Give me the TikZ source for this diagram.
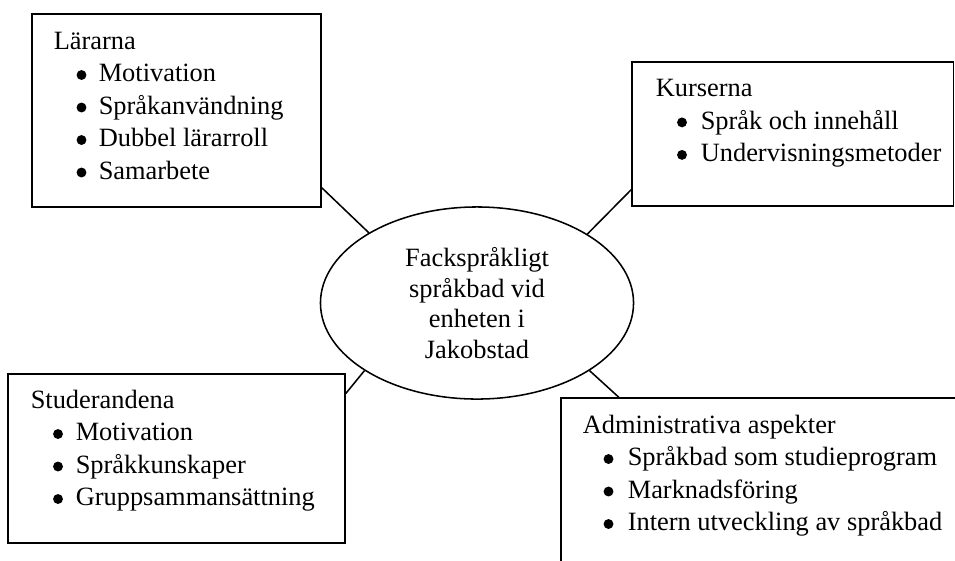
\documentclass[tikz,border=0pt]{standalone}
\usepackage{fontspec}
\setmainfont{Liberation Serif}
\usetikzlibrary{shapes.geometric,fit}
\tikzset{
	box/.style={draw, inner sep=0pt},
	head/.style={anchor=base west, inner sep=0pt},
	bul/.style={circle, fill, inner sep=0pt, minimum size=4.5pt},
}
\begin{document}
\begin{tikzpicture}[x=0.4545pt, y=-0.4545pt, line width=0.7pt, font=\fontsize{12}{14}\selectfont]
	\useasboundingbox (0,0) rectangle (955,560);
	% centre
	\node[draw, ellipse, inner sep=0pt, minimum width=142.3pt, minimum height=87.3pt, align=center, font=\fontsize{12}{13.9}\selectfont] (mid) at (477,303) {Fackspråkligt\\språkbad vid\\enheten i\\Jakobstad};
	% boxes
	\node[box, fit={(32,14) (321,207)}] (lar) {};
	\node[box, fit={(632,62) (953.5,206)}] (kur) {};
	\node[box, fit={(8,374) (345,543)}] (stu) {};
	\node[box, fit={(561,398) (990,600)}] (adm) {};
	% Lärarna
	\node[head] (lar-t) at (53,49.3) {Lärarna};
	\foreach \t [count=\i] in {Motivation, Språkanvändning, Dubbel lärarroll, Samarbete} {
		\node[bul] (lar-b\i) at (81.5,49.3+32.5*\i-6.8) {};
		\node[head] (lar-\i) at (98,49.3+32.5*\i) {\t};
	}
	% Kurserna
	\node[head] (kur-t) at (655,96.7) {Kurserna};
	\foreach \t [count=\i] in {Språk och innehåll, Undervisningsmetoder} {
		\node[bul] (kur-b\i) at (682,96.7+32.5*\i-6.8) {};
		\node[head] (kur-\i) at (700,96.7+32.5*\i) {\t};
	}
	% Studerandena
	\node[head] (stu-t) at (30,408.3) {Studerandena};
	\foreach \t [count=\i] in {Motivation, Språkkunskaper, Gruppsammansättning} {
		\node[bul] (stu-b\i) at (58,408.3+32.5*\i-6.8) {};
		\node[head] (stu-\i) at (75,408.3+32.5*\i) {\t};
	}
	% Administrativa aspekter
	\node[head] (adm-t) at (582,433.3) {Administrativa aspekter};
	\foreach \t [count=\i] in {Språkbad som studieprogram, Marknadsföring, Intern utveckling av språkbad} {
		\node[bul] (adm-b\i) at (608.5,433.3+32.5*\i-6.8) {};
		\node[head] (adm-\i) at (627,433.3+32.5*\i) {\t};
	}
	% connectors
	\draw (lar.-28.8) -- (mid.147.8);
	\draw (kur.199.2) -- (mid.32.2);
	\draw (stu.21.5) -- (mid.211.3);
	\draw (adm.147.8) -- (mid.-31.1);
\end{tikzpicture}
\end{document}
